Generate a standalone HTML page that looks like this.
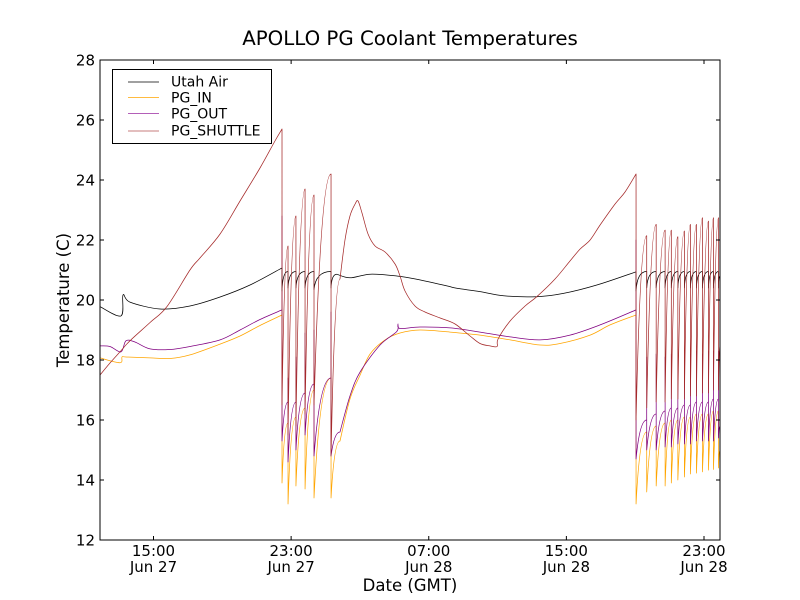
<!DOCTYPE html>
<html><head><meta charset="utf-8"><style>
body{margin:0;background:#fff;}
svg{display:block;font-family:"DejaVu Sans","Liberation Sans",sans-serif;}
</style></head><body>
<svg id="chart" width="800" height="600" viewBox="0 0 800 600" xmlns="http://www.w3.org/2000/svg">
<rect x="0" y="0" width="800" height="600" fill="#fff"/>
<text x="410" y="45" font-size="19.8" text-anchor="middle">APOLLO PG Coolant Temperatures</text>
<text x="0" y="0" font-size="16.5" text-anchor="middle" transform="translate(69,300) rotate(-90)">Temperature (C)</text>
<text x="410" y="591" font-size="16.5" text-anchor="middle">Date (GMT)</text>
<g id="series"></g>
<g id="axes"></g>
<rect x="100" y="60" width="620" height="480" fill="none" stroke="#000" stroke-width="1"/>
<g>
<rect x="112.5" y="69.5" width="159" height="74" fill="#fff" stroke="#000" stroke-width="1"/>
<line x1="128" y1="82" x2="159" y2="82" stroke="#000" stroke-width="0.7"/>
<text x="171" y="86.5" font-size="14">Utah Air</text>
<line x1="128" y1="97.5" x2="159" y2="97.5" stroke="#FFA500" stroke-width="0.8"/>
<text x="171" y="102.5" font-size="14">PG_IN</text>
<line x1="128" y1="113.5" x2="159" y2="113.5" stroke="#9a2aa0" stroke-width="0.8"/>
<text x="171" y="118.5" font-size="14">PG_OUT</text>
<line x1="128" y1="131" x2="159" y2="131" stroke="#b55050" stroke-width="0.8"/>
<text x="171" y="135.5" font-size="14">PG_SHUTTLE</text>
</g>
</svg>
<script>
// ---- data (hours since Jun 27 00:00 GMT, temperatures in C) ----
const xTickHours = [15, 23, 31, 39, 47];
const xTickTimes = ["15:00", "23:00", "07:00", "15:00", "23:00"];
const xTickDates = ["Jun 27", "Jun 27", "Jun 28", "Jun 28", "Jun 28"];
const yTickValues = [12, 14, 16, 18, 20, 22, 24, 26, 28];

const airPreT = [11.89, 13.11, 13.23, 13.63, 15.38, 17.12, 18.87, 20.61, 22.47];
const airPreV = [19.78, 19.47, 20.17, 19.93, 19.7, 19.8, 20.1, 20.5, 21.07];
const airMidT = [25.65, 26.42, 27.59, 29.14, 30.30, 32.05, 32.63, 33.98, 35.34, 37.28, 38.83, 40.77, 43.05];
const airMidV = [20.86, 20.74, 20.86, 20.8, 20.69, 20.47, 20.39, 20.28, 20.14, 20.11, 20.22, 20.5, 20.94];

const inPreT = [11.89, 13.05, 13.17, 13.40, 14.80, 15.96, 17.12, 18.87, 20.03, 21.19, 22.47];
const inPreV = [18.07, 17.91, 18.1, 18.1, 18.07, 18.05, 18.17, 18.53, 18.8, 19.15, 19.5];
const inMidT = [25.84, 26.42, 27.01, 27.59, 28.46, 29.33, 30.49, 32.24, 33.98, 35.73, 37.47, 38.63, 40.38, 41.54, 43.05];
const inMidV = [15.3, 16.7, 17.5, 18.2, 18.67, 18.9, 19.0, 18.93, 18.83, 18.67, 18.5, 18.55, 18.83, 19.17, 19.5];

const outPreT = [11.89, 12.47, 13.11, 13.40, 13.92, 14.80, 15.96, 17.12, 18.87, 20.03, 21.19, 22.47];
const outPreV = [18.47, 18.45, 18.27, 18.64, 18.6, 18.37, 18.35, 18.45, 18.67, 19.0, 19.35, 19.67];
const outMidT = [25.84, 26.42, 27.01, 28.17, 29.14, 29.21, 29.33, 30.49, 32.24, 33.98, 35.73, 37.47, 39.21, 40.96, 43.05];
const outMidV = [15.6, 16.8, 17.6, 18.5, 18.95, 19.2, 19.05, 19.1, 19.07, 18.93, 18.77, 18.67, 18.83, 19.17, 19.67];

const shPreT = [11.89, 12.47, 13.05, 13.63, 14.80, 15.78, 17.12, 17.70, 18.87, 20.03, 21.19, 22.06, 22.47];
const shPreV = [17.5, 17.9, 18.27, 18.64, 19.25, 19.78, 21.0, 21.4, 22.2, 23.3, 24.4, 25.3, 25.7];
const shMidT = [25.84, 26.13, 26.42, 26.72, 26.89, 27.12, 27.47, 27.88, 28.46, 29.04, 29.33, 29.62, 30.20, 30.78, 31.66, 32.53, 33.40, 33.98, 34.56, 34.97, 35.03, 35.73, 36.60, 37.28, 38.34, 39.21, 39.80, 40.38, 40.96, 41.83, 42.41, 43.05];
const shMidV = [20.7, 22.0, 22.8, 23.2, 23.3, 22.9, 22.2, 21.8, 21.6, 21.2, 20.8, 20.3, 19.8, 19.6, 19.4, 19.2, 18.8, 18.55, 18.47, 18.45, 18.7, 19.3, 19.8, 20.11, 20.7, 21.3, 21.7, 22.0, 22.5, 23.2, 23.6, 24.2];

const tL = [22.47, 22.82, 23.28, 23.81, 24.33, 25.32];
const shPeakL = [25.7, 21.8, 22.8, 23.7, 23.5, 24.2];
const shLowL = [16.5, 15.5, 15.8, 16.2, 16.5, 14.8];
const outPreL = [19.67, 16.6, 16.6, 16.9, 17.2, 17.4];
const outSpikeL = [22.8, 17.4, 18.1, 18.9, 19.0, 19.6];
const outLowL = [15.3, 14.6, 15.0, 15.5, 14.8, 14.8];
const inPreL = [19.5, 15.9, 16.1, 16.4, 17.0, 17.4];
const inLowL = [13.9, 13.2, 13.8, 13.7, 13.4, 13.4];
const airPreL = [21.07, 20.95, 20.95, 20.95, 20.95, 20.95];
const airLowL = [20.3, 20.4, 20.4, 20.4, 20.35, 20.4];

const tR = [43.05, 43.67, 44.22, 44.74, 45.10, 45.48, 45.86, 46.21, 46.56, 46.91, 47.26, 47.55, 47.84];
const shPeakR = [24.2, 22.14, 22.52, 22.33, 22.33, 22.11, 22.3, 22.52, 22.52, 22.74, 22.63, 22.74, 22.74];
const shLowR = [16.0, 16.4, 16.6, 16.6, 16.7, 16.7, 16.7, 16.8, 16.8, 16.9, 16.9, 17.0, 17.0];
const outPreR = [19.67, 16.0, 16.2, 16.3, 16.4, 16.4, 16.5, 16.5, 16.6, 16.6, 16.6, 16.7, 16.7];
const outSpikeR = [22.0, 18.1, 18.2, 18.1, 18.2, 18.0, 18.1, 18.2, 18.3, 18.2, 18.3, 18.3, 18.3];
const outLowR = [14.7, 15.0, 15.0, 15.1, 15.1, 15.2, 15.2, 15.2, 15.3, 15.3, 15.3, 15.3, 15.4];
const inPreR = [19.5, 15.6, 15.8, 15.9, 16.0, 16.0, 16.1, 16.1, 16.2, 16.2, 16.2, 16.3, 16.3];
const inLowR = [13.2, 13.6, 13.8, 13.8, 13.9, 14.0, 14.1, 14.2, 14.23, 14.27, 14.33, 14.35, 14.4];
const airPreR = [20.94, 20.95, 20.95, 20.95, 20.95, 20.95, 20.95, 20.95, 20.95, 20.95, 20.95, 20.95, 20.95];
const airLowR = [20.3, 20.4, 20.4, 20.4, 20.4, 20.4, 20.4, 20.4, 20.4, 20.4, 20.4, 20.4, 20.4];
const endT = [47.93];
const airEnd = [20.8];
const inEnd = [15.0];
const outEnd = [15.8];
const shEnd = [18.5];

// ---- axes ----
const X0 = 100, X1 = 720, Y0 = 540, Y1 = 60;
const T0 = 11.89, T1 = 47.93, V0 = 12, V1 = 28;
function xs(t){ return X0 + (t - T0) / (T1 - T0) * (X1 - X0); }
function ys(v){ return Y0 - (v - V0) / (V1 - V0) * (Y0 - Y1); }

const NS = "http://www.w3.org/2000/svg";
const gAxes = document.getElementById("axes");
const gSeries = document.getElementById("series");
function mk(tag, attrs, parent){
  const e = document.createElementNS(NS, tag);
  for (const k in attrs) e.setAttribute(k, attrs[k]);
  parent.appendChild(e);
  return e;
}

yTickValues.forEach(function(v){
  const y = ys(v);
  const t1 = mk("line", {x1: X0, y1: y, x2: X0 + 4, y2: y, stroke: "#000", "stroke-width": 1}, gAxes);
  
  
  const t2 = mk("line", {x1: X1 - 4, y1: y, x2: X1, y2: y, stroke: "#000", "stroke-width": 1}, gAxes);
  
  
  const lb = mk("text", {x: X0 - 5, y: y + 5.5, "font-size": 15, "text-anchor": "end"}, gAxes);
  lb.textContent = String(v);
  
  
});
xTickHours.forEach(function(h, i){
  const x = xs(h);
  const t1 = mk("line", {x1: x, y1: Y0, x2: x, y2: Y0 - 4, stroke: "#000", "stroke-width": 1}, gAxes);
  
  
  const t2 = mk("line", {x1: x, y1: Y1, x2: x, y2: Y1 + 4, stroke: "#000", "stroke-width": 1}, gAxes);
  
  
  const l1 = mk("text", {x: x, y: 556, "font-size": 15, "text-anchor": "middle"}, gAxes);
  l1.textContent = xTickTimes[i];
  
  
  const l2 = mk("text", {x: x, y: 572, "font-size": 15, "text-anchor": "middle"}, gAxes);
  l2.textContent = xTickDates[i];
  
  
});

function P(t, v){ return xs(t).toFixed(2) + "," + ys(v).toFixed(2); }
function smooth(T, V, first){
  let d = (first ? "M" : "L") + P(T[0], V[0]);
  for (let i = 0; i < T.length - 1; i++){
    const i0 = Math.max(0, i - 1), i3 = Math.min(T.length - 1, i + 2);
    const x1 = xs(T[i]), y1 = ys(V[i]), x2 = xs(T[i+1]), y2 = ys(V[i+1]);
    const x0 = xs(T[i0]), y0 = ys(V[i0]), x3 = xs(T[i3]), y3 = ys(V[i3]);
    const c1x = x1 + (x2 - x0) / 6, c1y = y1 + (y2 - y0) / 6;
    const c2x = x2 - (x3 - x1) / 6, c2y = y2 - (y3 - y1) / 6;
    d += "C" + c1x.toFixed(2) + "," + c1y.toFixed(2) + " " + c2x.toFixed(2) + "," + c2y.toFixed(2) + " " + x2.toFixed(2) + "," + y2.toFixed(2);
  }
  return d;
}
function burst(T, pre, spike, low, nextT, nextV, ctrl){
  let d = "";
  for (let k = 0; k < T.length; k++){
    d += "L" + P(T[k], pre[k]);
    if (spike) d += "L" + P(T[k], spike[k]);
    d += "L" + P(T[k], low[k]);
    const tn = (k + 1 < T.length) ? T[k + 1] : nextT;
    const vn = (k + 1 < T.length) ? pre[k + 1] : nextV;
    const ct = T[k] + ctrl * (tn - T[k]);
    d += "Q" + P(ct, vn) + " " + P(tn, vn);
  }
  return d;
}
function series(name, color, d){
  const p = mk("path", {d: d, fill: "none", stroke: color, "stroke-width": 0.75, "stroke-linejoin": "round"}, gSeries);
  
  
}

const dIn = smooth(inPreT, inPreV, true) + burst(tL, inPreL, null, inLowL, inMidT[0], inMidV[0], 0.35)
  + smooth(inMidT, inMidV, false) + burst(tR, inPreR, null, inLowR, endT[0], inEnd[0], 0.35);
const dOut = smooth(outPreT, outPreV, true) + burst(tL, outPreL, outSpikeL, outLowL, outMidT[0], outMidV[0], 0.35)
  + smooth(outMidT, outMidV, false) + burst(tR, outPreR, outSpikeR, outLowR, endT[0], outEnd[0], 0.35);
const dAir = smooth(airPreT, airPreV, true) + burst(tL, airPreL, null, airLowL, airMidT[0], airMidV[0], 0.1)
  + smooth(airMidT, airMidV, false) + burst(tR, airPreR, null, airLowR, endT[0], airEnd[0], 0.1);
const dSh = smooth(shPreT, shPreV, true) + burst(tL, shPeakL, null, shLowL, shMidT[0], shMidV[0], 0.4)
  + smooth(shMidT, shMidV, false) + burst(tR, shPeakR, null, shLowR, endT[0], shEnd[0], 0.4);

series("pg-in-line", "#FFA500", dIn);
series("pg-out-line", "#800080", dOut);
series("utah-air-line", "#000000", dAir);
series("pg-shuttle-line", "#A52A2A", dSh);

const cp = mk("clipPath", {id: "plotclip"}, document.getElementById("chart"));
mk("rect", {x: X0, y: Y1, width: X1 - X0, height: Y0 - Y1}, cp);
gSeries.setAttribute("clip-path", "url(#plotclip)");
</script>
</body></html>
